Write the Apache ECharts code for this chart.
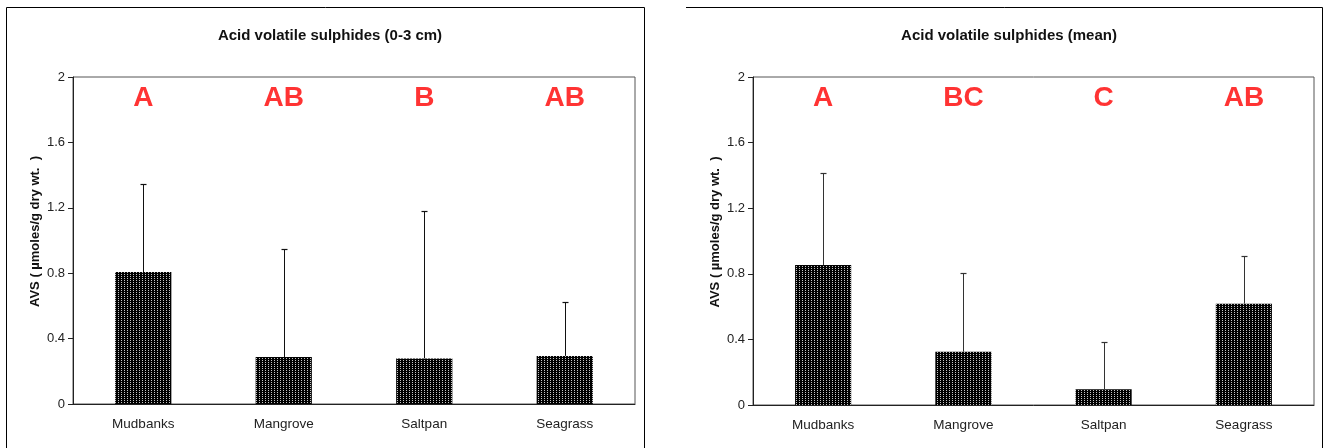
<!DOCTYPE html>
<html>
<head>
<meta charset="utf-8">
<script src="https://cdn.jsdelivr.net/npm/echarts@6/dist/echarts.min.js"></script>
<style>
  html, body { margin: 0; padding: 0; background: #fff; }
  #chart { width: 1324px; height: 448px; }
</style>
</head>
<body>
<div id="chart"></div>
<script>
// ---- data ----
const categories = ['Mudbanks', 'Mangrove', 'Saltpan', 'Seagrass'];
const yTicks = [0, 0.4, 0.8, 1.2, 1.6, 2];

const titleLeft = 'Acid volatile sulphides (0-3 cm)';
const meansLeft = [0.807, 0.287, 0.279, 0.294];
const errTopLeft = [1.345, 0.946, 1.18, 0.624];
const lettersLeft = ['A', 'AB', 'B', 'AB'];

const titleRight = 'Acid volatile sulphides (mean)';
const meansRight = [0.854, 0.325, 0.096, 0.618];
const errTopRight = [1.416, 0.807, 0.384, 0.909];
const lettersRight = ['A', 'BC', 'C', 'AB'];

const yAxisName = 'AVS ( \u00b5moles/g dry wt.  )';

// ---- rendering ----
const FONT = '"Liberation Sans", Arial, sans-serif';
const LETTER_Y = 1.87;

function makePattern() {
  const c = document.createElement('canvas');
  c.width = 3; c.height = 2;
  const ctx = c.getContext('2d');
  ctx.fillStyle = '#000';
  ctx.fillRect(0, 0, 3, 2);
  ctx.fillStyle = '#c4c4c4';
  ctx.fillRect(1, 0, 1, 1);
  return c;
}
const pattern = { image: makePattern(), repeat: 'repeat' };

const chart = echarts.init(document.getElementById('chart'), null, { renderer: 'canvas' });

function yAxisCfg(gi) {
  return {
    type: 'value', gridIndex: gi, min: 0, max: 2, interval: 0.4,
    axisLine: { show: true, lineStyle: { color: '#222', width: 1 } },
    axisTick: { show: true, length: 5, lineStyle: { color: '#222' } },
    splitLine: { show: false },
    axisLabel: {
      color: '#222', fontFamily: FONT, fontSize: 13, margin: 8,
      formatter: v => {
        const t = yTicks.find(x => Math.abs(x - v) < 1e-9);
        return t === undefined ? '' : String(t);
      }
    },
    name: yAxisName, nameLocation: 'middle', nameRotate: 90, nameGap: 31,
    nameTextStyle: { color: '#111', fontFamily: FONT, fontSize: 13, fontWeight: 'bold', padding: [0, 0, 0, 18] }
  };
}
function xAxisCfg(gi) {
  return {
    type: 'category', gridIndex: gi, data: categories,
    axisLine: { show: true, lineStyle: { color: '#222', width: 1 } },
    axisTick: { show: false },
    axisLabel: { color: '#222', fontFamily: FONT, fontSize: 13.5, margin: 13 }
  };
}
function errSeries(gi, means, tops, color) {
  return {
    type: 'custom', xAxisIndex: gi, yAxisIndex: gi, z: 5,
    data: means.map((m, i) => [i, m, tops[i]]),
    renderItem: (params, api) => {
      const p0 = api.coord([api.value(0), api.value(1)]);
      const p1 = api.coord([api.value(0), api.value(2)]);
      const x = Math.round(p0[0]) + 0.5;
      const style = { stroke: color, lineWidth: 1 };
      return {
        type: 'group',
        children: [
          { type: 'line', shape: { x1: x, y1: p0[1], x2: x, y2: Math.round(p1[1]) + 0.5 }, style },
          { type: 'line', shape: { x1: x - 3, y1: Math.round(p1[1]) + 0.5, x2: x + 3, y2: Math.round(p1[1]) + 0.5 }, style: { stroke: color, lineWidth: 1.2 } }
        ]
      };
    }
  };
}
function letterSeries(gi, letters) {
  return {
    type: 'scatter', xAxisIndex: gi, yAxisIndex: gi, symbolSize: 0, silent: true,
    data: letters.map((l, i) => ({ value: [i, LETTER_Y], name: l })),
    label: {
      show: true, position: 'inside', formatter: p => p.name,
      color: '#ff0000', fontFamily: FONT, fontSize: 28, fontWeight: 'bold'
    }
  };
}
function barSeries(gi, means) {
  return {
    type: 'bar', xAxisIndex: gi, yAxisIndex: gi, data: means, barWidth: '40%',
    itemStyle: { color: pattern }, silent: true
  };
}

chart.setOption({
  animation: false,
  title: [
    { text: titleLeft, left: 325, top: 23, textAlign: 'center',
      textStyle: { fontFamily: FONT, fontSize: 15, fontWeight: 'bold', color: '#111' } },
    { text: titleRight, left: 1004, top: 23, textAlign: 'center',
      textStyle: { fontFamily: FONT, fontSize: 15, fontWeight: 'bold', color: '#111' } }
  ],
  grid: [
    { left: 73, top: 77, width: 562, height: 327, show: true, borderColor: '#555', borderWidth: 1, backgroundColor: 'transparent' },
    { left: 753, top: 77, width: 561, height: 328, show: true, borderColor: '#555', borderWidth: 1, backgroundColor: 'transparent' }
  ],
  xAxis: [xAxisCfg(0), xAxisCfg(1)],
  yAxis: [yAxisCfg(0), yAxisCfg(1)],
  series: [
    barSeries(0, meansLeft), errSeries(0, meansLeft, errTopLeft, '#111'), letterSeries(0, lettersLeft),
    barSeries(1, meansRight), errSeries(1, meansRight, errTopRight, '#333'), letterSeries(1, lettersRight)
  ],
  graphic: [
    { type: 'rect', shape: { x: 6.5, y: 7.5, width: 638, height: 470 },
      style: { fill: 'none', stroke: '#000', lineWidth: 1 }, silent: true },
    { type: 'polyline', shape: { points: [[686, 7.5], [1322.5, 7.5], [1322.5, 470]] },
      style: { fill: 'none', stroke: '#000', lineWidth: 1 }, silent: true }
  ]
});
</script>
</body>
</html>
